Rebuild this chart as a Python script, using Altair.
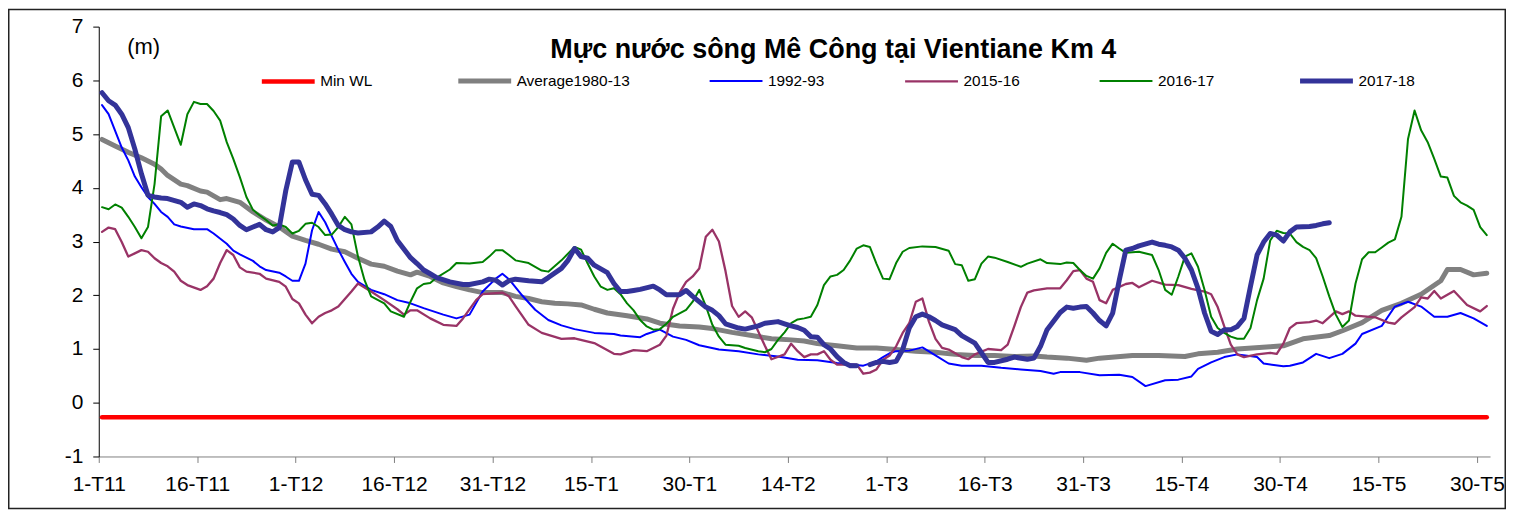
import json
import altair as alt
import pandas as pd

# ---------------- data ----------------
TICK_LABELS = ["1-T11", "16-T11", "1-T12", "16-T12", "31-T12", "15-T1", "30-T1",
               "14-T2", "1-T3", "16-T3", "31-T3", "15-T4", "30-T4", "15-T5", "30-T5"]
TICK_STEP = 15
N_DAYS = 212

SERIES = ["Min WL", "Average1980-13", "1992-93", "2015-16", "2016-17", "2017-18"]

minwl_days = [0, 211]
minwl_vals = [-0.27, -0.27]

avg_days = [0, 2, 4, 6, 8, 9, 10, 12, 13, 15, 16, 18, 19, 21, 23, 25, 27, 29, 31, 33,
            35, 37, 39, 41, 43, 45, 47, 48, 50, 52, 54, 56, 58, 61, 63, 65, 67, 69, 71,
            73, 75, 77, 80, 83, 85, 88, 91, 93, 96, 99, 102, 105, 107, 109, 112, 115,
            118, 121, 124, 127, 130, 133, 136, 139, 142, 144, 147, 150, 152, 157, 161,
            165, 167, 170, 173, 178, 180, 183, 187, 189, 192, 195, 198, 201, 204, 205,
            207, 209, 211]
avg_vals = [4.90, 4.78, 4.66, 4.56, 4.44, 4.35, 4.23, 4.07, 4.04, 3.94, 3.92, 3.78, 3.80,
            3.73, 3.55, 3.40, 3.27, 3.10, 3.02, 2.95, 2.86, 2.81, 2.69, 2.58, 2.54, 2.45,
            2.38, 2.43, 2.35, 2.23, 2.16, 2.10, 2.05, 2.05, 1.98, 1.94, 1.88, 1.85, 1.84,
            1.82, 1.74, 1.67, 1.62, 1.56, 1.48, 1.43, 1.41, 1.38, 1.31, 1.25, 1.19, 1.17,
            1.15, 1.10, 1.06, 1.02, 1.02, 0.99, 0.96, 0.94, 0.90, 0.88, 0.88, 0.86, 0.87,
            0.85, 0.83, 0.79, 0.83, 0.88, 0.88, 0.86, 0.91, 0.94, 1.00, 1.04, 1.06, 1.19,
            1.25, 1.34, 1.49, 1.72, 1.85, 2.02, 2.27, 2.48, 2.48, 2.38, 2.41]

y9293_days = [0, 1, 2, 3, 4, 5, 6, 7, 8, 9, 10, 11, 12, 14, 16, 17, 19, 20, 21, 23, 24,
              25, 27, 28, 29, 30, 31, 32, 33, 34, 35, 36, 37, 38, 39, 41, 43, 45, 47, 49,
              52, 54, 56, 58, 60, 61, 62, 64, 66, 68, 70, 72, 75, 78, 79, 82, 83, 85, 87,
              89, 91, 94, 97, 100, 103, 106, 109, 112, 116, 118, 119, 120, 121, 123, 125,
              127, 129, 131, 134, 137, 140, 142, 143, 145, 146, 149, 152, 155, 157, 159,
              162, 164, 166, 167, 169, 171, 173, 176, 177, 180, 181, 183, 185, 187, 189,
              191, 192, 195, 197, 199, 201, 203, 205, 207, 209, 211]
y9293_vals = [5.54, 5.37, 5.06, 4.75, 4.51, 4.21, 4.01, 3.83, 3.70, 3.55, 3.46, 3.32, 3.28,
              3.23, 3.23, 3.15, 2.96, 2.83, 2.76, 2.64, 2.54, 2.47, 2.42, 2.35, 2.27, 2.27,
              2.59, 3.21, 3.55, 3.36, 3.10, 2.85, 2.62, 2.40, 2.25, 2.10, 2.02, 1.91, 1.85,
              1.76, 1.64, 1.57, 1.64, 2.07, 2.31, 2.40, 2.30, 2.00, 1.73, 1.54, 1.44, 1.37,
              1.30, 1.28, 1.25, 1.22, 1.28, 1.36, 1.23, 1.17, 1.07, 0.99, 0.96, 0.90, 0.86,
              0.80, 0.79, 0.74, 0.69, 0.77, 0.85, 0.92, 0.96, 0.97, 1.03, 0.88, 0.73, 0.69,
              0.69, 0.65, 0.62, 0.60, 0.59, 0.54, 0.57, 0.57, 0.51, 0.52, 0.48, 0.31, 0.42,
              0.43, 0.49, 0.63, 0.75, 0.85, 0.90, 0.85, 0.73, 0.68, 0.69, 0.75, 0.91, 0.83,
              0.91, 1.10, 1.28, 1.43, 1.79, 1.88, 1.79, 1.60, 1.60, 1.67, 1.57, 1.43]

y1516_days = [0, 1, 2, 3, 4, 6, 7, 8, 9, 10, 11, 12, 13, 15, 16, 17, 18, 19, 20, 21, 22,
              24, 25, 27, 28, 29, 30, 31, 32, 33, 34, 35, 36, 38, 39, 41, 43, 45, 46, 47,
              48, 50, 52, 54, 55, 57, 58, 61, 62, 63, 65, 67, 70, 72, 75, 78, 79, 81, 83,
              85, 86, 87, 88, 89, 90, 91, 92, 93, 94, 95, 96, 97, 98, 99, 101, 102, 104,
              105, 106, 107, 108, 109, 110, 111, 112, 115, 116, 117, 118, 119, 120, 121,
              122, 123, 124, 125, 126, 127, 128, 129, 131, 132, 133, 135, 137, 138, 139,
              140, 141, 142, 144, 146, 147, 148, 149, 150, 151, 152, 153, 154, 156, 157,
              158, 160, 162, 164, 166, 168, 169, 170, 171, 172, 173, 174, 176, 178, 179,
              180, 181, 182, 184, 185, 186, 188, 189, 190, 191, 194, 196, 197, 198, 200,
              201, 202, 203, 204, 206, 208, 210, 211]
y1516_vals = [3.18, 3.26, 3.23, 2.99, 2.72, 2.84, 2.81, 2.69, 2.60, 2.54, 2.44, 2.27, 2.19,
              2.10, 2.17, 2.31, 2.60, 2.84, 2.75, 2.52, 2.44, 2.40, 2.31, 2.25, 2.16, 1.93,
              1.85, 1.64, 1.48, 1.60, 1.67, 1.72, 1.79, 2.07, 2.22, 2.07, 1.91, 1.74, 1.64,
              1.72, 1.72, 1.57, 1.45, 1.43, 1.57, 1.91, 2.02, 2.05, 1.98, 1.80, 1.45, 1.30,
              1.19, 1.20, 1.11, 0.91, 0.90, 0.98, 0.96, 1.08, 1.25, 1.75, 2.05, 2.25, 2.35,
              2.50, 3.09, 3.22, 3.00, 2.45, 1.80, 1.60, 1.70, 1.59, 1.06, 0.81, 0.90, 1.10,
              0.96, 0.85, 0.90, 0.90, 0.96, 0.80, 0.71, 0.71, 0.54, 0.56, 0.62, 0.80, 0.88,
              1.05, 1.30, 1.48, 1.88, 1.94, 1.51, 1.19, 1.02, 0.99, 0.85, 0.81, 0.90, 1.00,
              0.98, 1.08, 1.42, 1.78, 2.05, 2.09, 2.13, 2.13, 2.28, 2.45, 2.47, 2.31, 2.25,
              1.91, 1.85, 2.10, 2.21, 2.23, 2.15, 2.27, 2.20, 2.19, 2.12, 2.07, 2.02, 1.78,
              1.42, 1.08, 0.90, 0.85, 0.90, 0.93, 0.91, 1.10, 1.39, 1.48, 1.50, 1.53, 1.48,
              1.70, 1.65, 1.70, 1.62, 1.59, 1.49, 1.47, 1.59, 1.78, 1.96, 1.94, 2.08, 1.94,
              2.08, 1.82, 1.70, 1.80]

y1617_days = [0, 1, 2, 3, 4, 5, 6, 7, 8, 9, 10, 11, 12, 13, 14, 15, 16, 17, 18, 19, 20,
              21, 22, 23, 24, 25, 26, 27, 28, 29, 30, 31, 32, 33, 34, 35, 36, 37, 38, 39,
              40, 41, 43, 44, 46, 47, 48, 49, 50, 51, 53, 54, 56, 58, 59, 60, 61, 62, 63,
              65, 66, 67, 68, 70, 72, 73, 74, 75, 76, 77, 78, 79, 80, 81, 82, 83, 84, 85,
              86, 87, 89, 90, 91, 92, 93, 94, 95, 97, 98, 100, 101, 102, 103, 104, 105,
              106, 107, 108, 109, 110, 111, 112, 113, 114, 115, 116, 117, 118, 119, 120,
              121, 122, 123, 125, 127, 129, 130, 131, 132, 133, 134, 135, 136, 138, 140,
              141, 143, 144, 146, 147, 148, 149, 150, 151, 152, 153, 154, 155, 156, 158,
              160, 161, 162, 163, 164, 165, 166, 167, 168, 169, 170, 171, 172, 173, 174,
              175, 176, 177, 178, 179, 180, 181, 182, 183, 184, 185, 186, 187, 188, 189,
              190, 191, 192, 193, 194, 195, 196, 197, 198, 199, 200, 201, 202, 203, 204,
              205, 206, 207, 208, 209, 210, 211]
y1617_vals = [3.64, 3.60, 3.69, 3.63, 3.46, 3.27, 3.06, 3.27, 4.07, 5.33, 5.44, 5.12, 4.80,
              5.37, 5.60, 5.56, 5.56, 5.43, 5.25, 4.85, 4.54, 4.20, 3.83, 3.59, 3.49, 3.40,
              3.30, 3.32, 3.27, 3.15, 3.20, 3.33, 3.35, 3.27, 3.12, 3.13, 3.27, 3.46, 3.32,
              2.72, 2.28, 1.98, 1.85, 1.70, 1.60, 1.88, 2.13, 2.21, 2.23, 2.33, 2.48, 2.60,
              2.59, 2.62, 2.72, 2.84, 2.84, 2.75, 2.65, 2.60, 2.53, 2.46, 2.44, 2.65, 2.90,
              2.85, 2.59, 2.35, 2.16, 2.10, 2.13, 2.02, 1.85, 1.72, 1.54, 1.42, 1.36, 1.37,
              1.47, 1.60, 1.73, 1.88, 2.10, 1.80, 1.45, 1.23, 1.08, 1.06, 1.02, 0.96, 0.94,
              1.00, 1.17, 1.31, 1.48, 1.55, 1.57, 1.60, 1.82, 2.19, 2.35, 2.38, 2.47, 2.65,
              2.87, 2.93, 2.90, 2.59, 2.31, 2.30, 2.60, 2.81, 2.88, 2.91, 2.90, 2.83, 2.58,
              2.56, 2.27, 2.30, 2.59, 2.72, 2.70, 2.62, 2.53, 2.59, 2.67, 2.60, 2.58, 2.61,
              2.60, 2.47, 2.36, 2.31, 2.50, 2.79, 2.96, 2.87, 2.79, 2.81, 2.75, 2.47, 2.10,
              2.01, 2.35, 2.72, 2.78, 2.53, 2.10, 1.60, 1.39, 1.30, 1.23, 1.19, 1.19, 1.39,
              1.91, 2.31, 3.02, 3.20, 3.16, 3.15, 2.99, 2.90, 2.84, 2.69, 2.35, 1.98, 1.64,
              1.41, 1.53, 2.22, 2.67, 2.80, 2.80, 2.89, 2.98, 3.04, 3.46, 4.91, 5.44, 5.07,
              4.85, 4.54, 4.21, 4.19, 3.85, 3.73, 3.67, 3.59, 3.27, 3.12]

y1718_days = [0, 1, 2, 3, 4, 5, 6, 7, 8, 9, 10, 12, 13, 14, 15, 16, 17, 18, 19, 20, 21,
              22, 23, 24, 25, 26, 27, 28, 29, 30, 31, 32, 33, 34, 35, 36, 37, 38, 39, 41,
              42, 43, 44, 45, 47, 48, 49, 50, 51, 53, 55, 56, 58, 59, 60, 61, 62, 63, 65,
              67, 68, 70, 71, 72, 73, 74, 75, 77, 78, 79, 80, 81, 82, 84, 85, 86, 88, 89,
              90, 92, 93, 94, 95, 97, 98, 100, 101, 103, 104, 105, 106, 107, 108, 109, 110,
              111, 112, 113, 114, 115, 116, 117, 118, 119, 120, 121, 122, 123, 124, 125,
              126, 127, 128, 130, 131, 133, 134, 135, 136, 138, 139, 141, 142, 143, 144,
              146, 147, 148, 149, 150, 151, 152, 153, 154, 155, 156, 157, 158, 160, 161,
              162, 163, 164, 165, 166, 167, 168, 169, 170, 171, 172, 173, 174, 175, 176,
              177, 178, 179, 180, 181, 182, 184, 185, 186, 187]
y1718_vals = [5.77, 5.62, 5.54, 5.37, 5.12, 4.72, 4.26, 3.86, 3.83, 3.81, 3.80, 3.73, 3.64,
              3.70, 3.67, 3.61, 3.57, 3.54, 3.50, 3.42, 3.30, 3.22, 3.27, 3.32, 3.22, 3.18,
              3.26, 3.95, 4.48, 4.48, 4.15, 3.88, 3.86, 3.70, 3.51, 3.30, 3.22, 3.18, 3.16,
              3.18, 3.27, 3.38, 3.28, 3.02, 2.70, 2.59, 2.47, 2.40, 2.33, 2.25, 2.20, 2.20,
              2.25, 2.30, 2.28, 2.19, 2.27, 2.30, 2.27, 2.25, 2.33, 2.50, 2.65, 2.87, 2.72,
              2.69, 2.56, 2.42, 2.22, 2.07, 2.07, 2.09, 2.11, 2.17, 2.10, 2.01, 2.01, 2.09,
              1.98, 1.78, 1.72, 1.62, 1.47, 1.39, 1.37, 1.43, 1.48, 1.51, 1.47, 1.43, 1.40,
              1.35, 1.23, 1.22, 1.08, 1.00, 0.86, 0.75, 0.69, 0.69, None, 0.71, 0.75, 0.77,
              0.75, 0.77, 0.99, 1.39, 1.60, 1.65, 1.60, 1.53, 1.45, 1.36, 1.25, 1.11, 0.93,
              0.75, 0.75, 0.81, 0.85, 0.81, 0.83, 1.05, 1.36, 1.68, 1.78, 1.76, 1.78, 1.79,
              1.67, 1.53, 1.43, 1.67, 2.28, 2.84, 2.87, 2.92, 2.99, 2.95, 2.93, 2.90, 2.84,
              2.69, 2.47, 2.13, 1.67, 1.33, 1.27, 1.36, 1.36, 1.42, 1.57, 2.17, 2.75, 2.99,
              3.15, 3.12, 3.01, 3.18, 3.27, 3.28, 3.30, 3.33, 3.35]

# ---------------- styles ----------------
COLORS = ["#FF0000", "#808080", "#0000FF", "#993366", "#008000", "#333399"]
WIDTHS = [4.5, 5, 2, 2.3, 2, 5]
FONT = "Liberation Sans"

series_data = [
    (SERIES[0], minwl_days, minwl_vals),
    (SERIES[1], avg_days, avg_vals),
    (SERIES[2], y9293_days, y9293_vals),
    (SERIES[3], y1516_days, y1516_vals),
    (SERIES[4], y1617_days, y1617_vals),
    (SERIES[5], y1718_days, y1718_vals),
]

rows = []
for name, days, vals in series_data:
    for d, v in zip(days, vals):
        rows.append({"day": d + 0.5, "value": v, "series": name})
df = pd.DataFrame(rows)

W, H = 1395, 431
label_expr = f"{json.dumps(TICK_LABELS)}[round(datum.value / {TICK_STEP})]"

x_enc = alt.X(
    "day:Q",
    scale=alt.Scale(domain=[0, N_DAYS], nice=False, zero=False),
    axis=alt.Axis(
        values=list(range(0, TICK_STEP * len(TICK_LABELS), TICK_STEP)),
        labelExpr=label_expr, title=None, grid=False,
        domainColor="#808080", tickColor="#808080", tickSize=6,
        labelFontSize=21, labelPadding=11, labelColor="black",
        labelFlush=False, labelOverlap=False, labelBound=False,
    ),
)
y_enc = alt.Y(
    "value:Q",
    scale=alt.Scale(domain=[-1, 7], nice=False, zero=False),
    axis=alt.Axis(
        values=list(range(-1, 8)), grid=False, labelExpr="'' + datum.value",
        domainColor="black", tickColor="black", tickSize=6,
        labelFontSize=21, labelPadding=10, labelColor="black",
        title="(m)", titleAngle=0, titleX=28, titleY=20,
        titleAlign="left", titleBaseline="middle",
        titleFontSize=22, titleFontWeight="normal", titleColor="black",
    ),
)
legend = alt.Legend(
    title=None, orient="none", legendX=161, legendY=25.5,
    direction="horizontal", columns=6, columnPadding=75,
    symbolType="stroke", symbolSize=2809, labelFontSize=15.4,
    labelOffset=3, labelColor="black", padding=0,
)
color_enc = alt.Color("series:N", scale=alt.Scale(domain=SERIES, range=COLORS), legend=legend)
width_enc = alt.StrokeWidth(
    "series:N",
    scale=alt.Scale(type="ordinal", domain=SERIES, range=WIDTHS),
    legend=legend,
)

layers = []
for name in SERIES:
    layers.append(
        alt.Chart(df)
        .transform_filter(alt.datum.series == name)
        .mark_line(strokeCap="round", strokeJoin="round")
        .encode(x=x_enc, y=y_enc, color=color_enc, strokeWidth=width_enc)
    )

frame = (
    alt.Chart(pd.DataFrame({"k": [0]}))
    .mark_rect(filled=False, stroke="#222222", strokeWidth=1.5)
    .encode(x=alt.value(-90.25), x2=alt.value(1410.25), y=alt.value(-17.25), y2=alt.value(483.25))
)

chart = (
    alt.layer(*layers, frame)
    .properties(
        width=W, height=H,
        autosize=alt.AutoSizeParams(type="none"),
        padding={"left": 91, "top": 18, "right": 17, "bottom": 53},
        title=alt.TitleParams(
            text="Mực nước sông Mê Công tại Vientiane Km 4",
            fontSize=27, fontWeight="bold", color="black",
            anchor="middle", frame="group", dx=39, dy=76,
            offset=0, baseline="alphabetic",
        ),
    )
    .configure(font=FONT)
    .configure_view(stroke=None)
)

chart.save("out.html", embed_options={"renderer": "svg", "actions": False})
